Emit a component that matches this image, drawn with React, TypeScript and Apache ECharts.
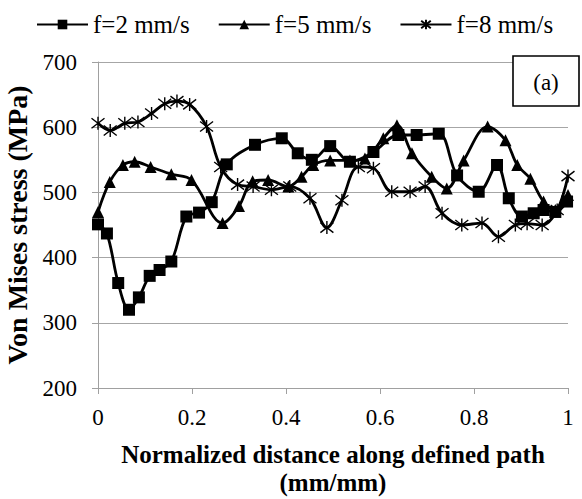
import React, { useEffect, useRef } from "react";
import * as echarts from "echarts";

const seriesNames = ["f=2 mm/s", "f=5 mm/s", "f=8 mm/s"];

const f2X = [0, 0.019, 0.043, 0.066, 0.087, 0.11, 0.131, 0.156, 0.188, 0.215, 0.242, 0.274, 0.334, 0.391, 0.425, 0.455, 0.494, 0.536, 0.586, 0.639, 0.678, 0.725, 0.764, 0.81, 0.849, 0.874, 0.902, 0.927, 0.948, 0.973, 0.998];
const f2Y = [451, 437, 361, 320, 339, 372, 381, 394, 463, 469, 485, 543, 573, 583, 560, 550, 571, 547, 562, 588, 588, 590, 526, 501, 542, 491, 463, 468, 473, 470, 486];

const f5X = [0, 0.025, 0.053, 0.078, 0.112, 0.156, 0.199, 0.265, 0.3, 0.329, 0.362, 0.405, 0.433, 0.458, 0.494, 0.536, 0.568, 0.607, 0.636, 0.668, 0.71, 0.742, 0.778, 0.829, 0.867, 0.892, 0.92, 0.948, 0.973, 1.0];
const f5Y = [470, 516, 542, 547, 539, 528, 519, 453, 479, 517, 519, 509, 524, 542, 549, 549, 552, 583, 603, 560, 524, 506, 549, 601, 580, 542, 521, 486, 473, 496];

const f8X = [0, 0.026, 0.057, 0.085, 0.114, 0.142, 0.168, 0.195, 0.231, 0.261, 0.297, 0.33, 0.369, 0.408, 0.451, 0.487, 0.519, 0.554, 0.586, 0.625, 0.664, 0.696, 0.732, 0.774, 0.817, 0.852, 0.888, 0.913, 0.945, 0.977, 1.0];
const f8Y = [606, 595, 606, 608, 621, 636, 640, 635, 601, 539, 512, 509, 504, 509, 491, 446, 488, 539, 537, 501, 501, 509, 468, 450, 453, 432, 450, 452, 450, 473, 525];

const xTickValues = [0, 0.2, 0.4, 0.6, 0.8, 1];
const yTickValues = [200, 300, 400, 500, 600, 700];

const panelLabel = "(a)";
const xTitle = "Normalized distance along defined path\n(mm/mm)";
const yTitle = "Von Mises stress (MPa)";

const FONT = "Liberation Serif";
const STAR = "path://M-5,-5L5,5M-5,5L5,-5M0,-6.5L0,6.5";

function zip(xs: number[], ys: number[]) {
  return xs.map((x, i) => [x, ys[i]]);
}

export default function App() {
  const ref = useRef<HTMLDivElement>(null);
  useEffect(() => {
    if (!ref.current) return;
    const chart = echarts.init(ref.current, null, { renderer: "svg" });
    const mk = (name: string, data: number[][], symbol: string, size: number) => ({
      name,
      type: "line",
      data,
      smooth: 0.35,
      symbol,
      symbolSize: size,
      showAllSymbol: true,
      lineStyle: { color: "#000", width: 2.8 },
      itemStyle: { color: "#000", borderColor: "#000", borderWidth: symbol === STAR ? 1.4 : 0 },
      emphasis: { disabled: true },
    });
    chart.setOption({
      animation: false,
      backgroundColor: "#fff",
      textStyle: { fontFamily: FONT, color: "#000" },
      legend: {
        data: seriesNames,
        left: 31,
        top: 7,
        itemWidth: 51,
        itemHeight: 12,
        itemGap: 28,
        textStyle: { fontFamily: FONT, fontSize: 25, color: "#000" },
      },
      grid: { left: 98, right: 14, top: 62, bottom: 111, containLabel: false, outerBoundsMode: "none" },
      xAxis: {
        type: "value",
        min: 0,
        max: 1,
        interval: 0.2,
        name: xTitle,
        nameLocation: "middle",
        nameGap: 52,
        nameTextStyle: { fontFamily: FONT, fontSize: 25, fontWeight: "bold", color: "#000", lineHeight: 28 },
        axisLine: { lineStyle: { color: "#a0a0a0", width: 1 } },
        axisTick: { show: true, inside: false, length: 6, lineStyle: { color: "#a0a0a0" } },
        axisLabel: {
          margin: 18,
          fontFamily: FONT,
          fontSize: 23,
          color: "#000",
          formatter: (v: number) => (xTickValues.includes(Math.round(v * 10) / 10) ? String(Math.round(v * 10) / 10) : ""),
        },
        splitLine: { show: false },
      },
      yAxis: {
        type: "value",
        min: 200,
        max: 700,
        interval: 100,
        name: yTitle,
        nameLocation: "middle",
        nameRotate: 90,
        nameGap: 63,
        nameTextStyle: { fontFamily: FONT, fontSize: 28, fontWeight: "bold", color: "#000" },
        axisLine: { show: true, lineStyle: { color: "#a0a0a0", width: 1 } },
        axisTick: { show: true, inside: false, length: 6, lineStyle: { color: "#a0a0a0" } },
        axisLabel: {
          margin: 21,
          fontFamily: FONT,
          fontSize: 23,
          color: "#000",
          formatter: (v: number) => (yTickValues.includes(v) ? String(v) : ""),
        },
        splitLine: { show: true, lineStyle: { color: "#a6a6a6", width: 1 } },
      },
      graphic: [
        {
          type: "rect",
          shape: { x: 513, y: 56, width: 66, height: 50 },
          style: { fill: "#fff", stroke: "#000", lineWidth: 1.6 },
          z: 100,
        },
        {
          type: "text",
          x: 546,
          y: 82,
          style: { text: panelLabel, fontFamily: FONT, fontSize: 23, fill: "#000", align: "center", verticalAlign: "middle" },
          z: 101,
        },
      ],
      series: [
        mk(seriesNames[0], zip(f2X, f2Y), "rect", 12),
        mk(seriesNames[1], zip(f5X, f5Y), "triangle", 12),
        mk(seriesNames[2], zip(f8X, f8Y), STAR, 13),
      ],
    });
    return () => chart.dispose();
  }, []);
  return <div ref={ref} style={{ position: "fixed", left: 0, top: 0, width: 582, height: 499 }} />;
}
